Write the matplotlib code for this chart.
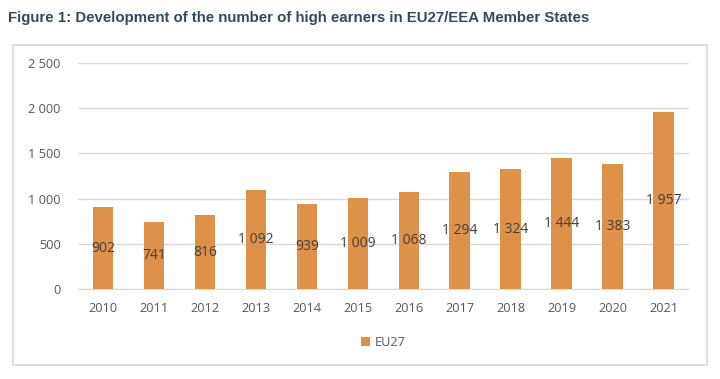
import matplotlib
matplotlib.use('Agg')
import matplotlib.pyplot as plt
from matplotlib.patches import Rectangle
import numpy as np

years = ['2010', '2011', '2012', '2013', '2014', '2015', '2016', '2017', '2018', '2019', '2020', '2021']
eu27 = [902, 741, 816, 1092, 939, 1009, 1068, 1294, 1324, 1444, 1383, 1957]
yticks = [0, 500, 1000, 1500, 2000, 2500]

bar_color = '#DE9149'
plt.rcParams['font.family'] = ['Open Sans', 'DejaVu Sans']


def fmt(v):
    # space as thousands separator
    return '{:,}'.format(v).replace(',', ' ')


fig = plt.figure(figsize=(7.2, 3.79), dpi=100)

# title
fig.text(8 / 720, 1 - 18 / 379, 'Figure 1: Development of the number of high earners in EU27/EEA Member States',
         fontsize=10.8, fontweight='bold', color='#2F4A66', family='Liberation Sans',
         ha='left', va='center')

# chart border
fig.patches.append(Rectangle((12.7 / 720, 1 - 365 / 379), (707 - 12.7) / 720, (365 - 45) / 379,
                             transform=fig.transFigure, fill=False, edgecolor='#D9D9D9', linewidth=1.2))

ax = fig.add_axes([77.5 / 720, 1 - 289 / 379, (689 - 77.5) / 720, (289 - 63) / 379])

x = np.arange(len(years))
bars = ax.bar(x, eu27, 0.4, color=bar_color, label='EU27', zorder=3)

for rect, v in zip(bars, eu27):
    ax.text(rect.get_x() + rect.get_width() / 2, v / 2, fmt(v), ha='center', va='center',
            fontsize=10, color='#404040', zorder=4)

ax.set_ylim(0, 2500)
ax.set_xlim(-0.5, len(years) - 0.5)
ax.set_yticks(yticks)
ax.set_yticklabels([fmt(t) for t in yticks])
ax.set_xticks(x)
ax.set_xticklabels(years)
ax.tick_params(axis='both', length=0, labelsize=9.2, labelcolor='#595959')
ax.tick_params(axis='y', pad=12)
ax.tick_params(axis='x', pad=9)
ax.grid(axis='y', color='#D9D9D9', linewidth=1, zorder=0)
for s in ['top', 'right', 'left']:
    ax.spines[s].set_visible(False)
ax.spines['bottom'].set_color('#D9D9D9')

ax.legend(loc='center', bbox_to_anchor=(0.5, -0.235), frameon=False, fontsize=9.2,
          handlelength=0.7, handleheight=0.7, handletextpad=0.4, labelcolor='#595959')

fig.savefig('out.png', dpi=100)
